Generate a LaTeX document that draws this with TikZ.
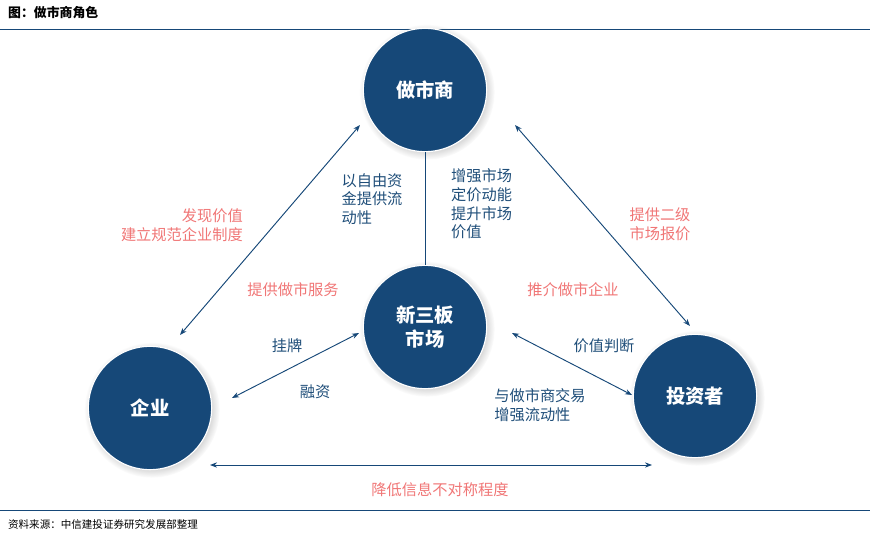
\documentclass[tikz,border=0pt]{standalone}
\usepackage{fontspec}
\setmainfont{Noto Sans CJK SC}
\usetikzlibrary{shadows,arrows.meta}
\definecolor{rolefill}{RGB}{22,72,120}
\definecolor{roletext}{RGB}{31,78,121}
\definecolor{rolepink}{RGB}{240,118,118}
\begin{document}
\begin{tikzpicture}[x=0.03cm,y=-0.03cm]
\tikzstyle{role} = [circle, fill=rolefill, draw=white, line width=1pt, minimum size=3.7cm, text=white, font=\fontsize{16.5}{20}\selectfont\bfseries, align=center, circular drop shadow={shadow xshift=1.5pt, shadow yshift=-1.5pt, opacity=0.35}]
\tikzstyle{blue_t} = [text=roletext, font=\fontsize{13}{16}\selectfont, align=left]
\tikzstyle{pink_t} = [text=rolepink, font=\fontsize{13}{16}\selectfont, align=right]
\tikzstyle{edge} = [rolefill, line width=0.8pt, {Stealth[length=6pt]}-{Stealth[length=6pt]}]
\useasboundingbox (0,0) rectangle (890,536);

%header and footer
\node[anchor=west, font=\fontsize{11}{13}\selectfont\bfseries] (title) at (4,13) {图：做市商角色};
\draw[rolefill, line width=0.8pt] (0,29) -- (870,29);
\draw[rolefill, line width=0.8pt] (0,510) -- (870,510);
\node[anchor=west, font=\fontsize{9}{11}\selectfont] (source) at (4,524) {资料来源：中信建投证券研究发展部整理};

%roles
\foreach \name/\x/\y/\t in {mm/425/90/做市商, neeq/425/327/新三板\\市场, firm/150/408/企业, inv/695/396/投资者}
	\node[role] (\name) at (\x,\y) {\t};

%connector ends
\foreach \name/\x/\y in {a1/180/335, a2/360/125, b1/515/125, b2/690/326, c1/232/398, c2/359/333, d1/512/333, d2/632/395, e1/210/465, e2/652/465}
	\coordinate (\name) at (\x,\y);

\draw[edge] (a1) -- (a2);
\draw[edge] (b1) -- (b2);
\draw[edge] (c1) -- (c2);
\draw[edge] (d1) -- (d2);
\draw[edge] (e1) -- (e2);
\draw[rolefill, line width=0.8pt] (mm.south) -- (neeq.north);

%labels
\node[blue_t] (l_capital) at (372,199) {以自由资\\金提供流\\动性};
\node[blue_t, anchor=west] (l_pricing) at (447,204) {增强市场\\定价动能\\提升市场\\价值};
\node[pink_t, anchor=east] (l_value) at (247,225) {发现价值\\建立规范企业制度};
\node[pink_t] (l_service) at (293,290) {提供做市服务};
\node[pink_t] (l_promote) at (573,290) {推介做市企业};
\node[pink_t, align=left] (l_quote) at (660,224) {提供二级\\市场报价};
\node[blue_t] (l_list) at (287,346) {挂牌};
\node[blue_t] (l_fund) at (315,392) {融资};
\node[blue_t] (l_judge) at (604,346) {价值判断};
\node[blue_t] (l_trade) at (540,405) {与做市商交易\\增强流动性};
\node[pink_t] (l_info) at (440,490) {降低信息不对称程度};
\end{tikzpicture}
\end{document}
